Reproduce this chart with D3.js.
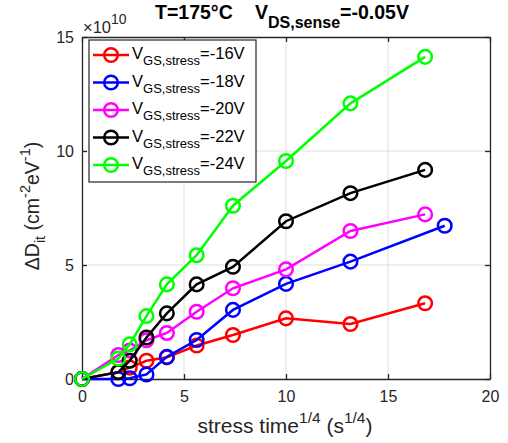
<!DOCTYPE html>
<html><head><meta charset="utf-8">
<script src="https://cdn.jsdelivr.net/npm/d3@7"></script>
<style>body{margin:0;background:#fff;}text{font-family:"Liberation Sans",Arial,sans-serif;}</style>
</head><body><svg id="c" width="508" height="443"></svg>
<script>
const xTimes = [0, 1.78, 2.34, 3.16, 4.16, 5.62, 7.40, 10.0, 13.16, 16.82];
const xTimesBlue = [0, 1.78, 2.34, 3.16, 4.16, 5.62, 7.40, 10.0, 13.16, 17.78];
const red     = [0, 0.30, 0.50, 0.80, 0.95, 1.47, 1.93, 2.66, 2.41, 3.32];
const blue    = [0, 0.00, 0.03, 0.20, 0.97, 1.71, 3.03, 4.17, 5.15, 6.72];
const magenta = [0, 1.05, 1.25, 1.70, 2.02, 2.95, 3.98, 4.81, 6.49, 7.22];
const black   = [0, 0.30, 0.80, 1.82, 2.88, 4.15, 4.92, 6.92, 8.15, 9.17];
const green   = [0, 0.90, 1.52, 2.76, 4.15, 5.43, 7.60, 9.56, 12.09, 14.13];
const seriesNames = ["-16V", "-18V", "-20V", "-22V", "-24V"];
const seriesColors = ["#ff0000", "#0000ff", "#ff00ff", "#000000", "#00ff00"];
const xTicks = [0, 5, 10, 15, 20];
const yTicks = [0, 5, 10, 15];

const series = [
  {name: seriesNames[0], color: seriesColors[0], xs: xTimes, ys: red},
  {name: seriesNames[1], color: seriesColors[1], xs: xTimesBlue, ys: blue},
  {name: seriesNames[2], color: seriesColors[2], xs: xTimes, ys: magenta},
  {name: seriesNames[3], color: seriesColors[3], xs: xTimes, ys: black},
  {name: seriesNames[4], color: seriesColors[4], xs: xTimes, ys: green}
];

const svg = d3.select("#c");
const L = 82, R = 490, T = 37, B = 379;
const x = d3.scaleLinear().domain([0, 20]).range([L, R]);
const y = d3.scaleLinear().domain([0, 15]).range([B, T]);

// grid
const g = svg.append("g");
g.selectAll(".gx").data(xTicks.slice(1, -1)).enter().append("line")
  .attr("x1", d => x(d)).attr("x2", d => x(d)).attr("y1", T).attr("y2", B)
  .attr("stroke", "#dedede").attr("stroke-width", 1);
g.selectAll(".gy").data(yTicks.slice(1, -1)).enter().append("line")
  .attr("y1", d => y(d)).attr("y2", d => y(d)).attr("x1", L).attr("x2", R)
  .attr("stroke", "#dedede").attr("stroke-width", 1);

// axes
const axB = svg.append("g").attr("transform", `translate(0,${B})`)
  .call(d3.axisBottom(x).tickValues(xTicks).tickSize(-5).tickPadding(12).tickSizeOuter(0));
const axT = svg.append("g").attr("transform", `translate(0,${T})`)
  .call(d3.axisTop(x).tickValues(xTicks).tickSize(-5).tickFormat("").tickSizeOuter(0));
const axL = svg.append("g").attr("transform", `translate(${L},0)`)
  .call(d3.axisLeft(y).tickValues(yTicks).tickSize(-5).tickPadding(8).tickSizeOuter(0));
const axR = svg.append("g").attr("transform", `translate(${R},0)`)
  .call(d3.axisRight(y).tickValues(yTicks).tickSize(-5).tickFormat("").tickSizeOuter(0));
[axB, axT, axL, axR].forEach(a => {
  a.selectAll("path").attr("stroke", "#262626").attr("stroke-width", 1.3);
  a.selectAll("line").attr("stroke", "#262626").attr("stroke-width", 1.3);
  a.selectAll("text").attr("font-size", 16).attr("fill", "#262626")
    .attr("font-family", "Liberation Sans, Arial, sans-serif");
});

// data
const line = d3.line().x(d => x(d[0])).y(d => y(d[1]));
series.forEach(s => {
  const pts = s.xs.map((v, i) => [v, s.ys[i]]);
  const gg = svg.append("g");
  gg.append("path").datum(pts).attr("d", line).attr("fill", "none")
    .attr("stroke", s.color).attr("stroke-width", 2.5);
  gg.selectAll("circle").data(pts).enter().append("circle")
    .attr("cx", d => x(d[0])).attr("cy", d => y(d[1])).attr("r", 6.8)
    .attr("fill", "none").attr("stroke", s.color).attr("stroke-width", 2.5);
});

// legend
const lg = svg.append("g");
lg.append("rect").attr("x", 89).attr("y", 40).attr("width", 167).attr("height", 142)
  .attr("fill", "#fff").attr("stroke", "#262626").attr("stroke-width", 1.2);
series.forEach((s, i) => {
  const cy = 55 + i * 27.5;
  lg.append("line").attr("x1", 93).attr("x2", 129).attr("y1", cy).attr("y2", cy)
    .attr("stroke", s.color).attr("stroke-width", 2.5);
  lg.append("circle").attr("cx", 111).attr("cy", cy).attr("r", 6.8)
    .attr("fill", "none").attr("stroke", s.color).attr("stroke-width", 2.5);
  const t = lg.append("text").attr("x", 132).attr("y", cy + 4).attr("font-size", 16.5).attr("fill", "#000");
  t.append("tspan").text("V");
  t.append("tspan").attr("font-size", 13).attr("dy", 6).text("GS,stress");
  t.append("tspan").attr("dy", -6).text("=" + s.name);
});

// title
svg.append("text").attr("x", 155).attr("y", 19)
  .attr("font-size", 19.5).attr("font-weight", "bold").attr("fill", "#000").text("T=175°C");
const tt = svg.append("text").attr("x", 255).attr("y", 19)
  .attr("font-size", 19.5).attr("font-weight", "bold").attr("fill", "#000");
tt.append("tspan").text("V");
tt.append("tspan").attr("font-size", 16).attr("dy", 8.5).text("DS,sense");
tt.append("tspan").attr("dy", -8.5).text("=-0.05V");

// exponent
const ex = svg.append("text").attr("x", 83).attr("y", 33).attr("font-size", 16.5).attr("fill", "#262626");
ex.append("tspan").text("×10");
ex.append("tspan").attr("font-size", 14).attr("dy", -9).text("10");

// x label
const xl = svg.append("text").attr("x", 285).attr("y", 433).attr("text-anchor", "middle")
  .attr("font-size", 21).attr("fill", "#262626");
xl.append("tspan").text("stress time");
xl.append("tspan").attr("font-size", 15.5).attr("dy", -10).text("1/4");
xl.append("tspan").attr("dy", 10).text(" (s");
xl.append("tspan").attr("font-size", 15.5).attr("dy", -10).text("1/4");
xl.append("tspan").attr("dy", 10).text(")");

// y label
const yl = svg.append("text").attr("transform", "translate(39,206) rotate(-90)")
  .attr("text-anchor", "middle").attr("font-size", 19.5).attr("fill", "#262626");
yl.append("tspan").text("ΔD");
yl.append("tspan").attr("font-size", 14.5).attr("dy", 6).text("it");
yl.append("tspan").attr("dy", -6).text(" (cm");
yl.append("tspan").attr("font-size", 14.5).attr("dy", -9).text("-2");
yl.append("tspan").attr("dy", 9).text("eV");
yl.append("tspan").attr("font-size", 14.5).attr("dy", -9).text("-1");
yl.append("tspan").attr("dy", 9).text(")");
</script></body></html>
